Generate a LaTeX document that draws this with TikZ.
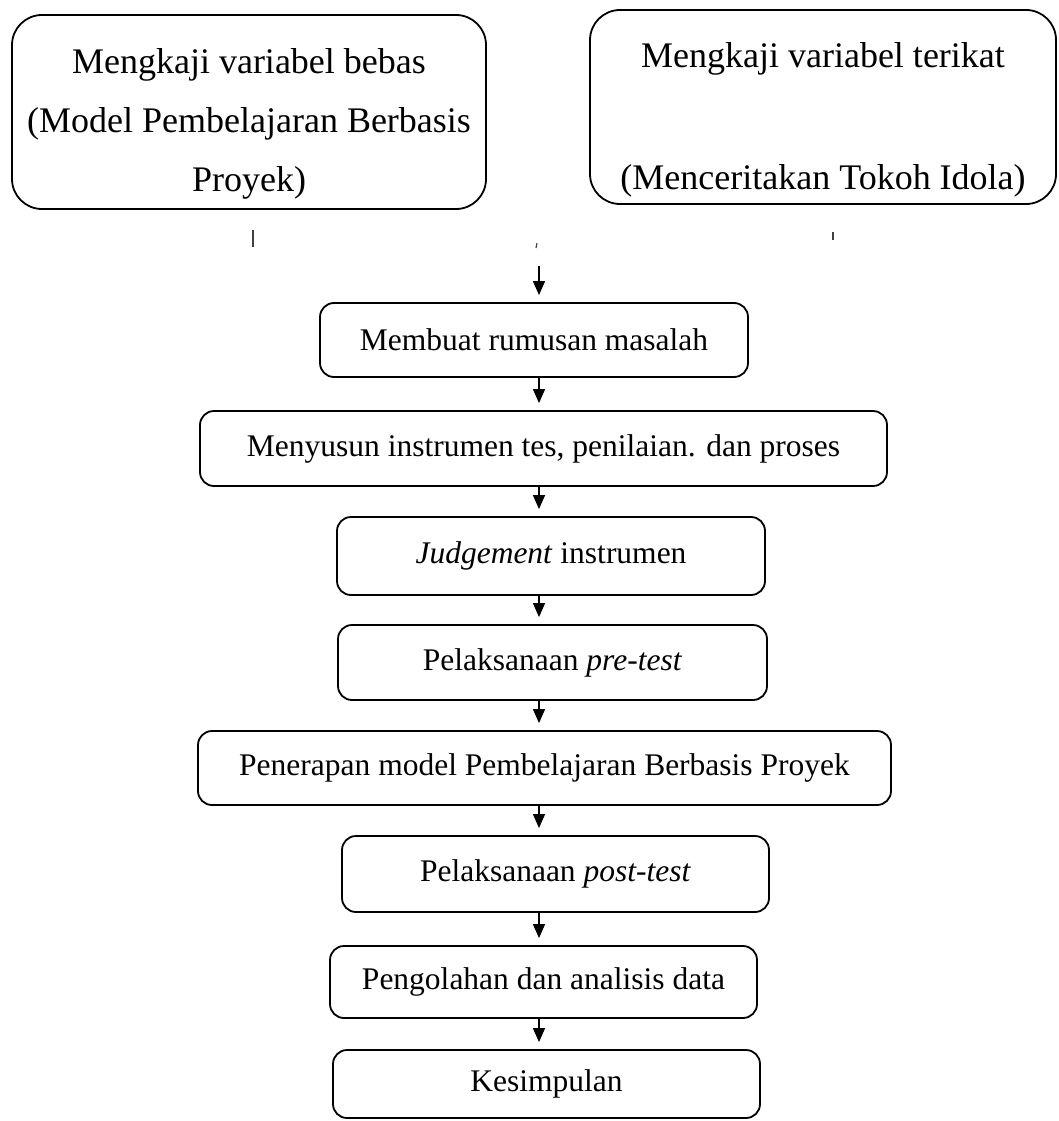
\documentclass[tikz,border=0pt]{standalone}
\usepackage{fontspec}
\setmainfont{Liberation Serif}
\usetikzlibrary{arrows.meta}
\begin{document}
\begin{tikzpicture}[x=1pt,y=-1pt,
  topbox/.style={draw, line width=1.8pt, rounded corners=30pt, inner sep=0pt},
  toptext/.style={inner sep=0pt, align=center, font=\fontsize{36}{59}\selectfont},
  flowbox/.style={draw, line width=1.8pt, rounded corners=14pt, inner sep=0pt, align=center,
    font=\fontsize{31.5}{38}\selectfont},
  flowarrow/.style={line width=1.3pt, -{Triangle[length=14pt,width=12pt]}, shorten >=7pt},
  faint/.style={line width=1.1pt, black!75}]
\useasboundingbox (0,0) rectangle (1059,1121);

\node[topbox, minimum width=474pt, minimum height=194pt] (va) at (249,112) {};
\node[toptext] (vatext) at ([yshift=-12pt]va.center)
  {Mengkaji variabel bebas\\(Model Pembelajaran Berbasis\\Proyek)};
\node[topbox, minimum width=466pt, minimum height=194pt] (vt) at (823,107) {};
\node[toptext] (vttext) at ([yshift=-13pt]vt.center)
  {Mengkaji variabel terikat\\[63pt](Menceritakan Tokoh Idola)};

\node[flowbox, minimum width=428pt, minimum height=74pt] (b1) at (534,340) {Membuat rumusan masalah};
\node[flowbox, minimum width=687pt, minimum height=75pt] (b2) at (543.5,448.5) {Menyusun instrumen tes, penilaian. dan proses};
\node[flowbox, minimum width=428pt, minimum height=78pt] (b3) at (551,556) {\textit{Judgement} instrumen};
\node[flowbox, minimum width=429pt, minimum height=75pt] (b4) at (552.5,662.5) {Pelaksanaan \textit{pre-test}};
\node[flowbox, minimum width=693pt, minimum height=74pt] (b5) at (544.5,768) {Penerapan model Pembelajaran Berbasis Proyek};
\node[flowbox, minimum width=427pt, minimum height=76pt] (b6) at (555.5,874) {Pelaksanaan \textit{post-test}};
\node[flowbox, minimum width=427pt, minimum height=72pt] (b7) at (543.5,982) {Pengolahan dan analisis data};
\node[flowbox, minimum width=427pt, minimum height=68pt] (b8) at (546.5,1084) {Kesimpulan};

% faint remnants of the joining lines
\coordinate (t1a) at (253,230); \coordinate (t1b) at (253,247);
\coordinate (t2a) at (537,243); \coordinate (t2b) at (536,248);
\coordinate (t3a) at (833,232); \coordinate (t3b) at (833,240);
\draw[faint] (t1a) -- (t1b);
\draw[faint] (t2a) -- (t2b);
\draw[faint] (t3a) -- (t3b);

\coordinate (ax) at (539,0);
\coordinate (top) at (539,266);
\draw[flowarrow] (top) -- (b1.north -| ax);
\draw[flowarrow] (b1.south -| ax) -- (b2.north -| ax);
\draw[flowarrow] (b2.south -| ax) -- (b3.north -| ax);
\draw[flowarrow] (b3.south -| ax) -- (b4.north -| ax);
\draw[flowarrow] (b4.south -| ax) -- (b5.north -| ax);
\draw[flowarrow] (b5.south -| ax) -- (b6.north -| ax);
\draw[flowarrow] (b6.south -| ax) -- (b7.north -| ax);
\draw[flowarrow] (b7.south -| ax) -- (b8.north -| ax);
\end{tikzpicture}
\end{document}
